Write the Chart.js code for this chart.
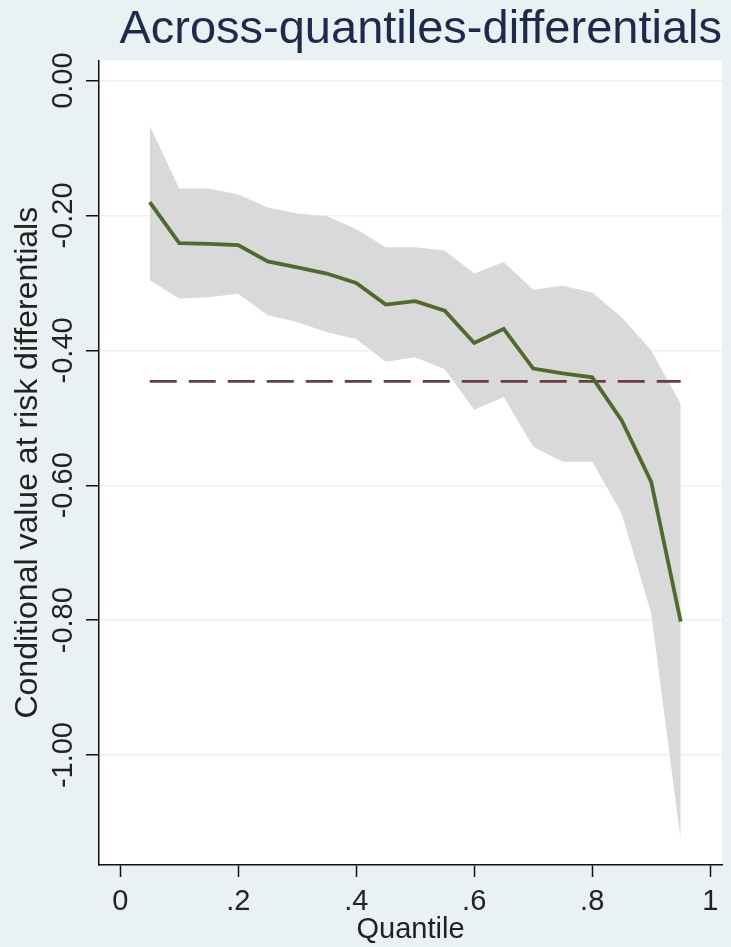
<!DOCTYPE html>
<html>
<head>
<meta charset="utf-8">
<script src="https://cdn.jsdelivr.net/npm/chart.js@4.4.1/dist/chart.umd.min.js"></script>
<style>
  html, body { margin: 0; padding: 0; background: #eaf1f3; }
  canvas { display: block; }
</style>
</head>
<body>
<canvas id="cvar-chart" width="731" height="947"></canvas>
<script>
// values
const quantiles = [0.05, 0.10, 0.15, 0.20, 0.25, 0.30, 0.35, 0.40, 0.45, 0.50,
                   0.55, 0.60, 0.65, 0.70, 0.75, 0.80, 0.85, 0.90, 0.95];
const estimate = [-0.180, -0.241, -0.242, -0.244, -0.268, -0.277, -0.286, -0.300, -0.332, -0.327,
                  -0.341, -0.389, -0.368, -0.427, -0.434, -0.440, -0.504, -0.595, -0.802];
const upperBand = [-0.067, -0.160, -0.160, -0.169, -0.188, -0.197, -0.201, -0.220, -0.247, -0.247,
                   -0.252, -0.286, -0.269, -0.310, -0.304, -0.314, -0.351, -0.400, -0.479];
const lowerBand = [-0.296, -0.323, -0.321, -0.316, -0.348, -0.358, -0.373, -0.383, -0.417, -0.410,
                   -0.428, -0.488, -0.469, -0.543, -0.565, -0.565, -0.642, -0.790, -1.126];
const averageLevel = -0.446;

const yTicks = [0, -0.2, -0.4, -0.6, -0.8, -1.0];
const yTickLabels = ['0.00', '-0.20', '-0.40', '-0.60', '-0.80', '-1.00'];
const xTicks = [0, 0.2, 0.4, 0.6, 0.8, 1];
const xTickLabels = ['0', '.2', '.4', '.6', '.8', '1'];

const FONT = '"Liberation Sans", Arial, sans-serif';
const toPoints = (ys) => quantiles.map((q, i) => ({x: q, y: ys[i]}));

// outer grey-blue background, white plot region
const backdrop = {
  id: 'backdrop',
  beforeDraw(chart) {
    const {ctx, chartArea: a} = chart;
    ctx.save();
    ctx.fillStyle = '#eaf1f3';
    ctx.fillRect(0, 0, chart.width, chart.height);
    ctx.fillStyle = '#ffffff';
    ctx.fillRect(a.left, a.top, a.right - a.left, a.bottom - a.top);
    ctx.restore();
  }
};

// rotated y tick labels (stata style)
const yLabels = {
  id: 'yLabels',
  afterDraw(chart) {
    const {ctx} = chart;
    const y = chart.scales.y;
    ctx.save();
    ctx.font = '29px ' + FONT;
    ctx.fillStyle = '#222';
    ctx.textAlign = 'center';
    ctx.textBaseline = 'alphabetic';
    yTicks.forEach((v, i) => {
      ctx.save();
      ctx.translate(72, y.getPixelForValue(v));
      ctx.rotate(-Math.PI / 2);
      ctx.fillText(yTickLabels[i], 0, 0);
      ctx.restore();
    });
    ctx.restore();
  }
};

const ctx = document.getElementById('cvar-chart').getContext('2d');

new Chart(ctx, {
  type: 'line',
  data: {
    datasets: [
      {
        data: toPoints(estimate),
        borderColor: '#4e6b2b',
        borderWidth: 3.8,
        pointRadius: 0,
        fill: false,
        tension: 0
      },
      {
        data: [{x: quantiles[0], y: averageLevel}, {x: quantiles[quantiles.length - 1], y: averageLevel}],
        borderColor: '#6a3f42',
        borderWidth: 2.8,
        borderDash: [27, 12],
        pointRadius: 0,
        fill: false
      },
      {
        data: toPoints(upperBand),
        borderWidth: 0,
        borderColor: 'rgba(0,0,0,0)',
        backgroundColor: '#d9d9d9',
        pointRadius: 0,
        fill: '+1'
      },
      {
        data: toPoints(lowerBand),
        borderWidth: 0,
        borderColor: 'rgba(0,0,0,0)',
        pointRadius: 0,
        fill: false
      }
    ]
  },
  options: {
    responsive: false,
    animation: false,
    devicePixelRatio: 1,
    layout: { padding: { top: 0, right: 9, left: 0, bottom: 0 } },
    plugins: {
      legend: { display: false },
      tooltip: { enabled: false },
      title: {
        display: true,
        text: 'Across-quantiles-differentials',
        align: 'end',
        fullSize: false,
        color: '#1c2b4c',
        font: { family: FONT, size: 47, weight: 'normal' },
        padding: { top: 2, bottom: 2 }
      }
    },
    scales: {
      x: {
        type: 'linear',
        min: -0.036,
        max: 1.02,
        afterBuildTicks: (s) => { s.ticks = xTicks.map(v => ({value: v})); },
        afterFit: (s) => { s.height = 82; },
        ticks: {
          callback: (v, i) => xTickLabels[i],
          color: '#222',
          font: { family: FONT, size: 29 },
          padding: 8,
          maxRotation: 0
        },
        grid: { drawOnChartArea: false, tickLength: 12, tickColor: '#111', tickWidth: 1.5 },
        border: { color: '#111', width: 1.5 },
        title: {
          display: true,
          text: 'Quantile',
          color: '#222',
          font: { family: FONT, size: 29 },
          padding: { top: 0, bottom: 0 }
        }
      },
      y: {
        type: 'linear',
        min: -1.163,
        max: 0.03,
        afterBuildTicks: (s) => { s.ticks = yTicks.map(v => ({value: v})); },
        afterFit: (s) => { s.width = 99; },
        ticks: { display: false },
        grid: { color: '#edf0f0', lineWidth: 1.5, tickColor: '#111', tickLength: 13, tickWidth: 1.5 },
        border: { color: '#111', width: 1.5 },
        title: {
          display: true,
          text: 'Conditional value at risk differentials',
          color: '#222',
          font: { family: FONT, size: 32 },
          padding: { top: 9, bottom: 0 }
        }
      }
    }
  },
  plugins: [backdrop, yLabels]
});
</script>
</body>
</html>
